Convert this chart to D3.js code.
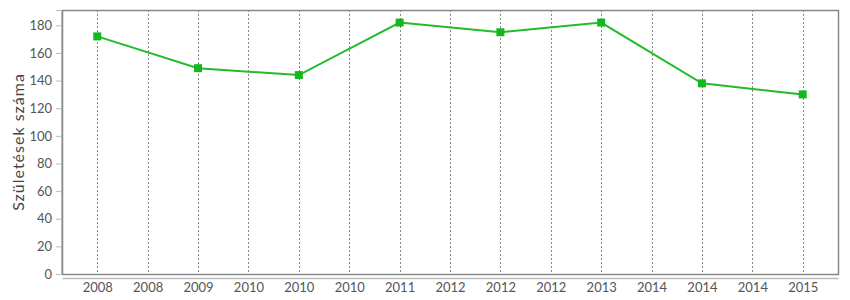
<!DOCTYPE html>
<html>
<head>
<meta charset="utf-8">
<script src="https://cdn.jsdelivr.net/npm/d3@7"></script>
<style>
  body { margin: 0; background: #fff; }
  svg { display: block; font-family: "Lato", sans-serif; }
</style>
</head>
<body>
<svg width="850" height="300"></svg>
<script>
// data
var years = [2008, 2009, 2010, 2011, 2012, 2013, 2014, 2015];
var births = [172, 149, 144, 182, 175, 182, 138, 130];
var tickLabels = ["2008", "2008", "2009", "2010", "2010", "2010", "2011", "2012",
                  "2012", "2012", "2013", "2014", "2014", "2014", "2015"];
var yTicks = [0, 20, 40, 60, 80, 100, 120, 140, 160, 180];

var plotLeft = 62, plotRight = 838, plotTop = 10, plotBottom = 274;

var svg = d3.select("svg");

var x = d3.scaleLinear()
    .domain([2008 - 0.35, 2015 + 0.35])
    .range([plotLeft, plotRight]);

var y = d3.scaleLinear()
    .domain([0, d3.max(births) * 1.05])
    .range([plotBottom, plotTop]);

var tickPos = tickLabels.map((d, i) => 2008 + i * 0.5);

// vertical dashed grid
svg.append("g")
    .selectAll("line")
    .data(tickPos)
    .join("line")
    .attr("x1", d => Math.round(x(d)) + 0.5)
    .attr("x2", d => Math.round(x(d)) + 0.5)
    .attr("y1", plotTop)
    .attr("y2", plotBottom)
    .attr("stroke", "#888")
    .attr("stroke-width", 1)
    .attr("stroke-dasharray", "2,2");

// plot frame
svg.append("rect")
    .attr("x", plotLeft + 0.5)
    .attr("y", plotTop + 0.5)
    .attr("width", plotRight - plotLeft)
    .attr("height", plotBottom - plotTop)
    .attr("fill", "none")
    .attr("stroke", "#888")
    .attr("stroke-width", 1.5);

// y axis
var yAxis = svg.append("g")
    .attr("transform", "translate(" + (plotLeft - 1) + ",0)")
    .call(d3.axisLeft(y).tickValues(yTicks).tickSize(5).tickPadding(4));
yAxis.select(".domain").attr("stroke", "#bbb");
yAxis.selectAll(".tick line").attr("stroke", "#bbb");
yAxis.selectAll(".tick text")
    .attr("fill", "#555")
    .attr("font-size", "13px")
    .attr("font-family", "Lato, sans-serif");

// x axis
var xAxis = svg.append("g")
    .attr("transform", "translate(0," + (plotBottom + 4) + ")")
    .call(d3.axisBottom(x).tickValues(tickPos)
        .tickFormat((d, i) => tickLabels[i])
        .tickSize(0).tickPadding(5));
xAxis.select(".domain").attr("stroke", "#bbb").attr("stroke-width", 1.5);
xAxis.selectAll(".tick text")
    .attr("fill", "#555")
    .attr("font-size", "13px")
    .attr("font-family", "Lato, sans-serif");

// y axis title
svg.append("text")
    .attr("transform", "translate(24," + ((plotTop + plotBottom) / 2) + ") rotate(-90)")
    .attr("text-anchor", "middle")
    .attr("fill", "#444")
    .attr("font-size", "16px")
    .attr("letter-spacing", "1px")
    .text("Születések száma");

// line
var line = d3.line()
    .x((d, i) => x(years[i]))
    .y(d => y(d));

svg.append("path")
    .datum(births)
    .attr("d", line)
    .attr("fill", "none")
    .attr("stroke", "#22bb2a")
    .attr("stroke-width", 2);

svg.append("g")
    .selectAll("rect")
    .data(births)
    .join("rect")
    .attr("x", (d, i) => x(years[i]) - 4)
    .attr("y", d => y(d) - 4)
    .attr("width", 8)
    .attr("height", 8)
    .attr("fill", "#14b81e");
</script>
</body>
</html>
